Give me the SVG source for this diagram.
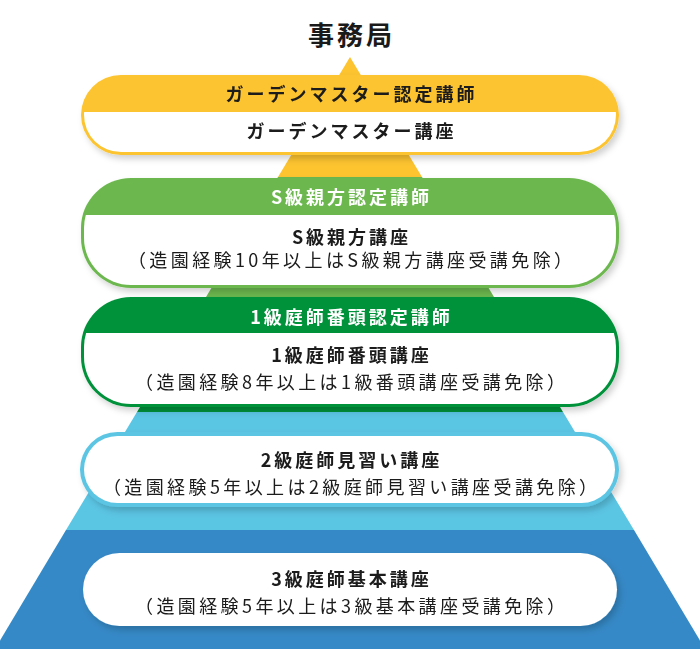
<svg xmlns="http://www.w3.org/2000/svg" width="700" height="649" viewBox="0 0 700 649">
<defs>
<style>
text{font-family:"Noto Sans CJK JP","Noto Sans",sans-serif;text-anchor:middle;fill:#1a1a1a}
.top{font-size:26px;font-weight:700;letter-spacing:3px}
.hd{font-size:18px;font-weight:700;letter-spacing:3px}
.hdw{fill:#ffffff}
.ti{font-size:18px;font-weight:700;letter-spacing:3px}
.nt{font-size:18px;font-weight:400;letter-spacing:3.4px}
.sh{filter:url(#shadow)}
</style>
<filter id="shadow" x="-10%" y="-20%" width="125%" height="150%">
<feDropShadow dx="3" dy="4" stdDeviation="3" flood-color="#000000" flood-opacity="0.18"/>
</filter>
<clipPath id="c1"><rect x="0" y="112" width="700" height="60"/></clipPath>
<clipPath id="c2"><rect x="0" y="215" width="700" height="80"/></clipPath>
<clipPath id="c3"><rect x="0" y="333" width="700" height="80"/></clipPath>
</defs>
<rect width="700" height="649" fill="#ffffff"/>
<g id="pyramid">
<polygon points="350,57 422,177 278,177" fill="#fdc430"/>
<polygon points="278,177 422,177 494,297 206,297" fill="#6cb84f"/>
<polygon points="206,297 494,297 563,412 137,412" fill="#00913a"/>
<polygon points="137,412 563,412 634,530 66,530" fill="#5bc5e4"/>
<polygon points="66,530 634,530 705,649 -5,649" fill="#3589c6"/>
</g>
<g id="office">
<text class="top" x="351.5" y="45">事務局</text>
</g>
<g id="garden-master" class="sh">
<rect x="81" y="75" width="538" height="80" rx="40" fill="#fdc430"/>
<rect x="84" y="78" width="532" height="74" rx="37" fill="#ffffff" clip-path="url(#c1)"/>
<text class="hd" x="351.5" y="101">ガーデンマスター認定講師</text>
<text class="ti" x="351.5" y="138">ガーデンマスター講座</text>
</g>
<g id="s-oyakata" class="sh">
<rect x="81" y="178" width="538" height="110" rx="50" fill="#6cb84f"/>
<rect x="84" y="181" width="532" height="104" rx="47" fill="#ffffff" clip-path="url(#c2)"/>
<text class="hd hdw" x="351.5" y="204">S級親方認定講師</text>
<text class="ti" x="351.5" y="244">S級親方講座</text>
<text class="nt" x="351.7" y="267">（造園経験10年以上はS級親方講座受講免除）</text>
</g>
<g id="banto" class="sh">
<rect x="81" y="297" width="538" height="110" rx="50" fill="#00913a"/>
<rect x="84" y="300" width="532" height="104" rx="47" fill="#ffffff" clip-path="url(#c3)"/>
<text class="hd hdw" x="351.5" y="324">1級庭師番頭認定講師</text>
<text class="ti" x="351.5" y="362">1級庭師番頭講座</text>
<text class="nt" x="351.7" y="389">（造園経験8年以上は1級番頭講座受講免除）</text>
</g>
<g id="minarai" class="sh">
<rect x="80" y="432" width="539" height="75" rx="37.5" fill="#5bc5e4"/>
<rect x="84" y="436" width="531" height="67" rx="33.5" fill="#ffffff"/>
<text class="ti" x="351.5" y="467">2級庭師見習い講座</text>
<text class="nt" x="351.7" y="494">（造園経験5年以上は2級庭師見習い講座受講免除）</text>
</g>
<g id="kihon" class="sh">
<rect x="83" y="553" width="534" height="73" rx="36.5" fill="#ffffff"/>
<text class="ti" x="351.5" y="586">3級庭師基本講座</text>
<text class="nt" x="351.7" y="613">（造園経験5年以上は3級基本講座受講免除）</text>
</g>
<g id="connectors"></g>
</svg>
